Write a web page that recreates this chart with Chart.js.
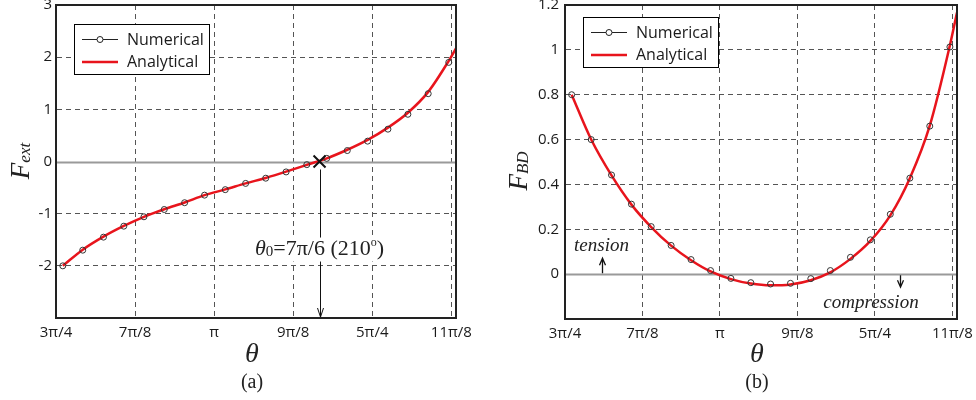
<!DOCTYPE html>
<html lang="en">
<head>
<meta charset="UTF-8">
<title>F_ext and F_BD versus theta</title>
<style>
  body { margin: 0; background: #fff; }
  #wrap { position: relative; width: 976px; height: 400px; }
  canvas { position: absolute; top: 0; }
  #chartA { left: 0; }
  #chartB { left: 488px; }
</style>
</head>
<body>
<div id="wrap">
  <canvas id="chartA" width="488" height="400"></canvas>
  <canvas id="chartB" width="488" height="400"></canvas>
</div>

<script src="https://cdn.jsdelivr.net/npm/chart.js"></script>
<script>
// theta in radians
const thetaNum = [2.390, 2.489, 2.592, 2.693, 2.793, 2.894, 2.995, 3.094, 3.197, 3.298,
                  3.398, 3.499, 3.602, 3.701, 3.803, 3.904, 4.005, 4.104, 4.205, 4.307];
const fextNum = [-2.00, -1.70, -1.45, -1.24, -1.06, -0.92, -0.79, -0.645, -0.54, -0.42,
                 -0.32, -0.20, -0.06, 0.06, 0.21, 0.39, 0.62, 0.905, 1.30, 1.90];
const fbdNum = [0.80, 0.60, 0.442, 0.312, 0.212, 0.128, 0.065, 0.016, -0.019, -0.038,
                -0.044, -0.041, -0.02, 0.016, 0.075, 0.153, 0.267, 0.428, 0.66, 1.013];

const thetaAna = [2.390, 2.489, 2.592, 2.693, 2.793, 2.894, 2.995, 3.094, 3.197, 3.298,
                  3.398, 3.499, 3.602, 3.701, 3.803, 3.904, 4.005, 4.104, 4.205, 4.307, 4.343];
const fextAna = [-2.00, -1.69, -1.44, -1.235, -1.06, -0.915, -0.785, -0.645, -0.535, -0.42,
                 -0.315, -0.195, -0.065, 0.06, 0.225, 0.415, 0.65, 0.935, 1.335, 1.93, 2.17];
const fbdAna = [0.80, 0.60, 0.44, 0.31, 0.21, 0.127, 0.062, 0.012, -0.022, -0.042,
                -0.05, -0.046, -0.027, 0.008, 0.068, 0.148, 0.262, 0.428, 0.662, 1.02, 1.167];

// x ticks, in multiples of pi/8
const xTickSteps = [6, 7, 8, 9, 10, 11];
const xTickLabels = ['3π/4', '7π/8', 'π', '9π/8', '5π/4', '11π/8'];

const theta0 = 7 * Math.PI / 6;

const serif = '"Liberation Serif", "Times New Roman", serif';
const sans = '"Open Sans", Lato, sans-serif';

function rich(ctx, parts, x, y) {
  let w = 0;
  parts.forEach(p => { ctx.font = p.f; p.w = ctx.measureText(p.t).width; w += p.w; });
  let cx = x - w / 2;
  ctx.textAlign = 'left';
  ctx.textBaseline = 'alphabetic';
  parts.forEach(p => { ctx.font = p.f; ctx.fillText(p.t, cx, y + (p.dy || 0)); cx += p.w; });
  return w;
}

function arrow(ctx, x, y1, y2, head) {
  const d = y2 > y1 ? 1 : -1;
  ctx.beginPath();
  ctx.moveTo(x, y1); ctx.lineTo(x, y2);
  ctx.moveTo(x - 3, y2 - d * head); ctx.lineTo(x, y2); ctx.lineTo(x + 3, y2 - d * head);
  ctx.stroke();
}

function makeFrame(opt) {
  return {
    id: 'frame' + opt.panel,
    beforeDatasetsDraw(chart) {
      const { ctx, chartArea: a, scales: { y } } = chart;
      const y0 = Math.round(y.getPixelForValue(0)) + 0.5;
      ctx.save();
      ctx.strokeStyle = '#9a9a9a';
      ctx.lineWidth = 2;
      ctx.beginPath(); ctx.moveTo(a.left, y0); ctx.lineTo(a.right, y0); ctx.stroke();
      ctx.restore();
    },
    afterDraw(chart) {
      const { ctx, chartArea: a, scales: { x, y } } = chart;
      ctx.save();
      // frame
      ctx.strokeStyle = '#222';
      ctx.lineWidth = 2;
      ctx.strokeRect(a.left, a.top, a.right - a.left, a.bottom - a.top);

      // legend
      const lx = a.left + 18, ly = opt.legendTop, lw = 135, lh = 50;
      ctx.fillStyle = '#fff';
      ctx.fillRect(lx, ly, lw, lh);
      ctx.strokeStyle = '#000';
      ctx.lineWidth = 1;
      ctx.strokeRect(lx + 0.5, ly + 0.5, lw, lh);
      const dsNum = chart.data.datasets[1], dsAna = chart.data.datasets[0];
      ctx.font = '16px ' + sans;
      ctx.textBaseline = 'middle';
      ctx.textAlign = 'left';
      ctx.strokeStyle = '#222';
      ctx.beginPath(); ctx.moveTo(lx + 8, ly + 15.5); ctx.lineTo(lx + 44, ly + 15.5); ctx.stroke();
      ctx.fillStyle = '#fff';
      ctx.beginPath(); ctx.arc(lx + 26, ly + 15.5, 3, 0, Math.PI * 2); ctx.fill(); ctx.stroke();
      ctx.fillStyle = '#1a1a1a';
      ctx.fillText(dsNum.label, lx + 53, ly + 16);
      ctx.strokeStyle = dsAna.borderColor;
      ctx.lineWidth = 2.5;
      ctx.beginPath(); ctx.moveTo(lx + 8, ly + 38); ctx.lineTo(lx + 44, ly + 38); ctx.stroke();
      ctx.fillText(dsAna.label, lx + 53, ly + 38);

      // axis titles
      ctx.fillStyle = '#222';
      const mid = (a.left + a.right) / 2 - 4;
      rich(ctx, [{ t: 'θ', f: 'italic 28px ' + serif }], mid, 362);
      rich(ctx, [{ t: '(' + opt.panel + ')', f: '20px ' + serif }], mid, 388);
      ctx.save();
      ctx.translate(opt.yTitleX, opt.yTitleY);
      ctx.rotate(-Math.PI / 2);
      rich(ctx, [{ t: 'F', f: 'italic 27px ' + serif },
                 { t: opt.yTitleSub, f: 'italic 17px ' + serif, dy: 1 }], 0, 0);
      ctx.restore();

      opt.notes(chart, ctx, x, y, a);
      ctx.restore();
    }
  };
}

function makeConfig(yNum, yAna, yMin, yMax, yStep, yFmt, leftW, rightPad, bottomH, yPad, frame) {
  return {
    type: 'scatter',
    data: {
      datasets: [{
        label: 'Analytical',
        data: thetaAna.map((t, i) => ({ x: t, y: yAna[i] })),
        showLine: true,
        borderColor: '#e8141c',
        borderWidth: 2.5,
        pointRadius: 0,
        cubicInterpolationMode: 'monotone',
        order: 2
      }, {
        label: 'Numerical',
        data: thetaNum.map((t, i) => ({ x: t, y: yNum[i] })),
        showLine: false,
        pointRadius: 3,
        pointBorderWidth: 1,
        pointBorderColor: '#333',
        pointBackgroundColor: 'rgba(0,0,0,0)',
        order: 1
      }]
    },
    options: {
      responsive: false,
      animation: false,
      events: [],
      layout: { padding: { top: 3, right: rightPad, left: 0, bottom: 0 } },
      plugins: { legend: { display: false }, tooltip: { enabled: false } },
      scales: {
        x: {
          type: 'linear',
          min: 3 * Math.PI / 4,
          max: 4.343,
          afterBuildTicks: s => { s.ticks = xTickSteps.map(k => ({ value: k * Math.PI / 8 })); },
          afterFit: s => { s.height = bottomH; s.paddingLeft = 0; s.paddingRight = 0; },
          grid: { color: '#555', lineWidth: 1, drawTicks: false },
          border: { color: '#222', width: 2, dash: [5, 4] },
          ticks: {
            padding: 6,
            color: '#1a1a1a',
            font: { family: sans, size: 15 },
            maxRotation: 0,
            autoSkip: false,
            callback: v => {
              const i = xTickSteps.indexOf(Math.round(v / (Math.PI / 8)));
              return i >= 0 ? xTickLabels[i] : '';
            }
          }
        },
        y: {
          min: yMin,
          max: yMax,
          afterFit: s => { s.width = leftW; s.paddingTop = 0; s.paddingBottom = 0; },
          grid: {
            color: c => Math.abs(c.tick.value) < 1e-9 ? 'rgba(0,0,0,0)' : '#555',
            lineWidth: 1,
            drawTicks: false
          },
          border: { color: '#222', width: 2, dash: [5, 4] },
          ticks: {
            stepSize: yStep,
            padding: yPad,
            color: '#1a1a1a',
            font: { family: sans, size: 15 },
            callback: yFmt
          }
        }
      }
    },
    plugins: [frame]
  };
}

const frameA = makeFrame({
  panel: 'a', legendTop: 24, yTitleX: 29, yTitleY: 161, yTitleSub: 'ext',
  notes(chart, ctx, x, y, a) {
    const px = x.getPixelForValue(theta0);
    const py = y.getPixelForValue(0);
    ctx.strokeStyle = '#111';
    ctx.lineWidth = 1;
    arrow(ctx, Math.round(px) + 0.5, py + 8, a.bottom - 1, 9);
    ctx.lineWidth = 2;
    ctx.beginPath();
    ctx.moveTo(px - 6, py - 6); ctx.lineTo(px + 6, py + 6);
    ctx.moveTo(px + 6, py - 6); ctx.lineTo(px - 6, py + 6);
    ctx.stroke();
    // label with white background
    const base = y.getPixelForValue(-1.63) + 8;
    const parts = [
      { t: 'θ', f: 'italic 22px ' + serif },
      { t: '0', f: '15px ' + serif, dy: 1 },
      { t: '=7π/6 (210', f: '22px ' + serif },
      { t: 'o', f: '12px ' + serif, dy: -9 },
      { t: ')', f: '22px ' + serif }
    ];
    ctx.fillStyle = 'rgba(0,0,0,0)';
    const w = rich(ctx, parts, px, base);
    ctx.fillStyle = '#fff';
    ctx.fillRect(px - w / 2 - 2, base - 17, w + 4, 24);
    ctx.fillStyle = '#222';
    rich(ctx, parts, px, base);
  }
});

const frameB = makeFrame({
  panel: 'b', legendTop: 17, yTitleX: 39, yTitleY: 171, yTitleSub: 'BD',
  notes(chart, ctx, x, y, a) {
    const y0 = y.getPixelForValue(0);
    ctx.strokeStyle = '#111';
    ctx.fillStyle = '#222';
    ctx.lineWidth = 1.3;
    const tx = Math.round(x.getPixelForValue(2.546)) + 0.5;
    arrow(ctx, tx, y0 - 1, y0 - 16, 7);
    rich(ctx, [{ t: 'tension', f: 'italic 19px ' + serif }], tx - 1, y.getPixelForValue(0.124) + 5);
    const cx = Math.round(x.getPixelForValue(4.054)) + 0.5;
    arrow(ctx, cx, y0 + 1, y0 + 13, 7);
    rich(ctx, [{ t: 'compression', f: 'italic 19px ' + serif }], x.getPixelForValue(3.907), y.getPixelForValue(-0.128) + 5);
  }
});

new Chart(document.getElementById('chartA'),
  makeConfig(fextNum, fextAna, -3, 3, 1, v => (v === -3 ? '' : v), 56, 32, 82, 4, frameA));

new Chart(document.getElementById('chartB'),
  makeConfig(fbdNum, fbdAna, -0.2, 1.2, 0.2,
    v => (Math.abs(v + 0.2) < 1e-6 ? '' : String(+v.toFixed(1))), 77, 19, 81, 6, frameB));
</script>
</body>
</html>
